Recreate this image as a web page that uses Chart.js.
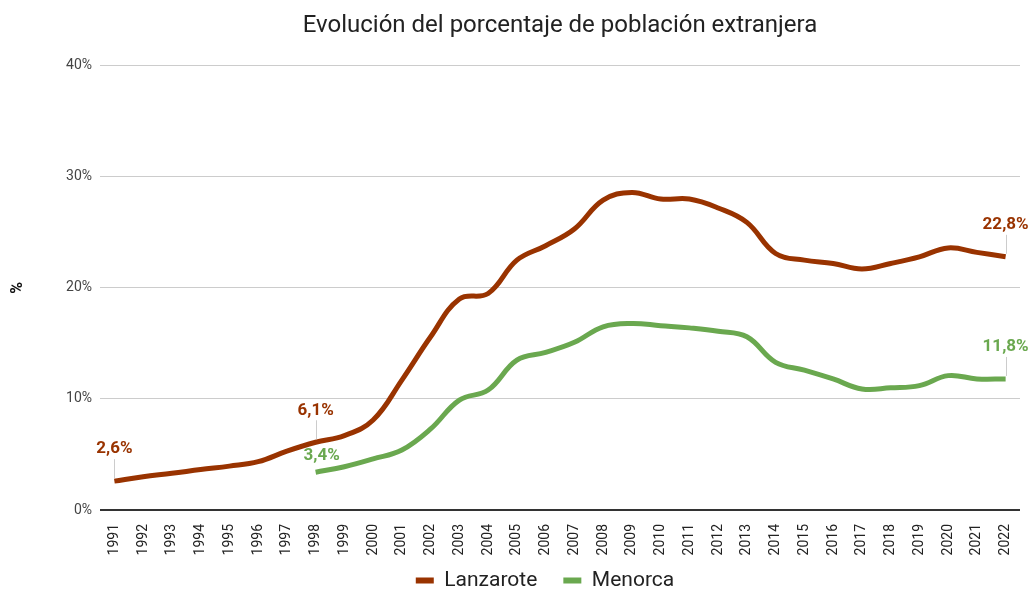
<!DOCTYPE html>
<html>
<head>
<meta charset="utf-8">
<script src="https://cdn.jsdelivr.net/npm/chart.js@4"></script>
<style>
    html, body { margin: 0; padding: 0; background: #fff; }
    #wrap { width: 1033px; height: 590px; }
</style>
</head>
<body>
<div id="wrap"><canvas id="chart"></canvas></div>
<script>
// Data
const years = ['1991','1992','1993','1994','1995','1996','1997','1998','1999','2000',
    '2001','2002','2003','2004','2005','2006','2007','2008','2009','2010',
    '2011','2012','2013','2014','2015','2016','2017','2018','2019','2020','2021','2022'];

const lanzarote = [2.6, 3.0, 3.3, 3.65, 3.95, 4.35, 5.3, 6.1, 6.7, 8.1,
    11.7, 15.6, 19.0, 19.5, 22.5, 23.8, 25.3, 27.9, 28.6, 28.0,
    28.0, 27.2, 25.9, 23.1, 22.5, 22.2, 21.7, 22.2, 22.8, 23.6, 23.2, 22.8];

const menorca = [null, null, null, null, null, null, null, 3.4, 3.9, 4.6,
    5.4, 7.3, 9.9, 10.8, 13.5, 14.2, 15.1, 16.5, 16.8, 16.6,
    16.4, 16.1, 15.6, 13.3, 12.6, 11.8, 10.9, 11.0, 11.2, 12.1, 11.8, 11.8];

const yTicks = [0, 10, 20, 30, 40];

// which points get a value label: [datasetIndex, dataIndex]
const labelledPoints = [[0, 0], [0, 7], [0, 31], [1, 7], [1, 31]];

const FONT = 'Roboto, "Noto Sans", sans-serif';

const fmt = v => v.toFixed(1).replace('.', ',') + '%';

// draws the value labels with thin leader lines
const pointLabels = {
    id: 'pointLabels',
    afterDatasetsDraw(chart) {
        const ctx = chart.ctx;
        ctx.save();
        ctx.font = `bold 17px ${FONT}`;
        ctx.textAlign = 'center';
        ctx.textBaseline = 'middle';
        labelledPoints.forEach(([di, i]) => {
            const ds = chart.data.datasets[di];
            const pt = chart.getDatasetMeta(di).data[i];
            const small = di === 1 && i === 7;
            const dy = small ? 16 : 32;
            const dx = small ? 6 : 0;
            if (!small) {
                ctx.strokeStyle = '#cccccc';
                ctx.lineWidth = 1;
                ctx.beginPath();
                ctx.moveTo(Math.round(pt.x) + 0.5, pt.y - 3);
                ctx.lineTo(Math.round(pt.x) + 0.5, pt.y - dy + 10);
                ctx.stroke();
            }
            ctx.fillStyle = ds.borderColor;
            ctx.fillText(fmt(ds.data[i]), pt.x + dx, pt.y - dy);
        });
        ctx.restore();
    }
};

// keep the legend compact in height while keeping wide item spacing,
// and nudge it like the original
const legendTweak = {
    id: 'legendTweak',
    beforeUpdate(chart) {
        const lg = chart.legend;
        if (lg && !lg._patched) {
            const fit = lg.fit.bind(lg);
            lg.fit = function () { fit(); this.height = 34; };
            lg._patched = true;
        }
    },
    afterLayout(chart) {
        const lg = chart.legend;
        if (lg) {
            lg.left -= 15; lg.right -= 15;
            lg.top -= 12;
        }
    }
};

new Chart(document.getElementById('chart'), {
    type: 'line',
    data: {
        labels: years,
        datasets: [
            {
                label: 'Lanzarote',
                data: lanzarote,
                borderColor: '#993300',
                backgroundColor: '#993300',
                borderWidth: 5,
                pointRadius: 0,
                tension: 0.4
            },
            {
                label: 'Menorca',
                data: menorca,
                borderColor: '#6aa84f',
                backgroundColor: '#6aa84f',
                borderWidth: 5,
                pointRadius: 0,
                tension: 0.4
            }
        ]
    },
    options: {
        responsive: true,
        maintainAspectRatio: false,
        animation: false,
        layout: { padding: { left: 0, right: 13, top: 0, bottom: 0 } },
        plugins: {
            title: {
                display: true,
                text: 'Evolución del porcentaje de población extranjera',
                fullSize: false,
                color: '#222',
                font: { family: FONT, size: 24, weight: 'normal' },
                padding: { top: 12, bottom: 25 }
            },
            legend: {
                position: 'bottom',
                fullSize: false,
                labels: {
                    color: '#222',
                    font: { family: FONT, size: 21 },
                    boxWidth: 18,
                    boxHeight: 6,
                    padding: 26,
                    // plain filled marker, no thick outline from the line width
                    generateLabels: (chart) =>
                        Chart.defaults.plugins.legend.labels.generateLabels(chart)
                            .map(item => ({ ...item, lineWidth: 0 }))
                }
            },
            tooltip: { enabled: false }
        },
        scales: {
            x: {
                offset: true,
                grid: { display: false },
                border: { display: false },
                ticks: {
                    color: '#222',
                    font: { family: FONT, size: 14 },
                    minRotation: 90,
                    maxRotation: 90,
                    autoSkip: false,
                    padding: 6
                },
                afterFit: (scale) => { scale.height = 46; }
            },
            y: {
                min: 0,
                max: 40,
                afterBuildTicks: (scale) => { scale.ticks = yTicks.map(v => ({ value: v })); },
                grid: {
                    color: (c) => c.tick && c.tick.value === 0 ? '#333' : '#cccccc',
                    lineWidth: (c) => c.tick && c.tick.value === 0 ? 2 : 1,
                    drawTicks: false
                },
                border: { display: false },
                ticks: {
                    color: '#444',
                    font: { family: FONT, size: 14 },
                    padding: 8,
                    callback: (v) => v + '%'
                },
                title: {
                    display: true,
                    text: '%',
                    color: '#111',
                    font: { family: FONT, size: 16, weight: 'bold' },
                    padding: { top: 8, bottom: 0 }
                },
                afterFit: (scale) => { scale.width = 100; }
            }
        }
    },
    plugins: [pointLabels, legendTweak]
});
</script>
</body>
</html>
